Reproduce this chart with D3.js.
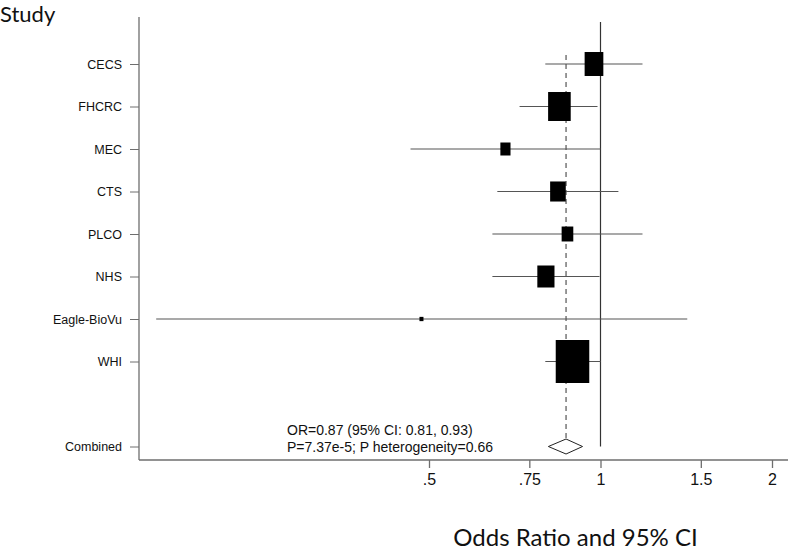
<!DOCTYPE html>
<html>
<head>
<meta charset="utf-8">
<script src="https://cdn.jsdelivr.net/npm/d3@7"></script>
<style>
  html, body { margin: 0; padding: 0; background: #fff; }
  svg { display: block; }
</style>
</head>
<body>
<svg id="chart" width="788" height="552"></svg>
<script>
// ---- data ----
const studies   = ["CECS", "FHCRC", "MEC", "CTS", "PLCO", "NHS", "Eagle-BioVu", "WHI"];
const oddsRatio = [0.974, 0.847, 0.681, 0.842, 0.875, 0.802, 0.485, 0.893];
const ciLow     = [0.800, 0.721, 0.464, 0.659, 0.646, 0.646, 0.166, 0.800];
const ciHigh    = [1.185, 0.988, 1.000, 1.075, 1.185, 0.996, 1.420, 1.000];
const weights   = [12.6, 18.4, 3.7, 8.8, 4.9, 10.6, 0.4, 40.5];
const combined  = { label: "Combined", or: 0.87, low: 0.81, high: 0.93 };
const xTicks      = [0.5, 0.75, 1, 1.5, 2];
const xTickLabels = [".5", ".75", "1", "1.5", "2"];
const summaryLines = ["OR=0.87 (95% CI: 0.81, 0.93)", "P=7.37e-5; P heterogeneity=0.66"];

// ---- layout ----
const svg = d3.select("#chart");
const axisLeftX = 139, axisTopY = 17, axisBottomY = 460, axisRightX = 788;

const x = d3.scaleLog().domain([0.5, 2]).range([429, 772]);
const rows = studies.concat([" ", combined.label]);
const y = d3.scalePoint().domain(rows).range([64, 446.5]);
const boxH = d3.scaleSqrt().domain([0, 40.5]).range([0, 43]);
const aspect = 0.78;

const data = studies.map((s, i) => ({ s, or: oddsRatio[i], lo: ciLow[i], hi: ciHigh[i], w: weights[i] }));

// frame
const axisColor = "#6e6e6e";
svg.append("line").attr("x1", axisLeftX).attr("x2", axisLeftX)
  .attr("y1", axisTopY).attr("y2", axisBottomY)
  .attr("stroke", axisColor).attr("stroke-width", 1.3);
svg.append("line").attr("x1", axisLeftX).attr("x2", axisRightX)
  .attr("y1", axisBottomY).attr("y2", axisBottomY)
  .attr("stroke", axisColor).attr("stroke-width", 1.3);

// y axis
const yAxis = d3.axisLeft(y).tickValues(rows.filter(r => r.trim() !== ""))
  .tickSize(9).tickPadding(8);
const gy = svg.append("g").attr("transform", `translate(${axisLeftX},0)`).call(yAxis);
gy.select(".domain").remove();
gy.selectAll(".tick line").attr("stroke", axisColor);
gy.selectAll(".tick text").attr("font-family", "Liberation Sans, Arial, sans-serif")
  .attr("font-size", 12.5).attr("fill", "#111");

// x axis
const xAxis = d3.axisBottom(x).tickValues(xTicks)
  .tickFormat((d, i) => xTickLabels[i]).tickSize(8).tickPadding(6);
const gx = svg.append("g").attr("transform", `translate(0,${axisBottomY})`).call(xAxis);
gx.select(".domain").remove();
gx.selectAll(".tick line").attr("stroke", axisColor).attr("stroke-width", 1.3);
gx.selectAll(".tick text").attr("font-family", "Liberation Sans, Arial, sans-serif")
  .attr("font-size", 16).attr("fill", "#111");

// null line at OR = 1
svg.append("line").attr("x1", x(1)).attr("x2", x(1))
  .attr("y1", 22).attr("y2", y(combined.label))
  .attr("stroke", "#333").attr("stroke-width", 1.2);

// dashed line at combined OR
const diamondHalfH = 7.5;
svg.append("line").attr("x1", x(combined.or)).attr("x2", x(combined.or))
  .attr("y1", 55).attr("y2", y(combined.label) - diamondHalfH)
  .attr("stroke", "#555").attr("stroke-width", 1.2).attr("stroke-dasharray", "5,4");

// CI lines
svg.selectAll("line.ci").data(data).join("line").attr("class", "ci")
  .attr("x1", d => x(d.lo)).attr("x2", d => x(d.hi))
  .attr("y1", d => y(d.s)).attr("y2", d => y(d.s))
  .attr("stroke", "#555").attr("stroke-width", 1.2);

// boxes
svg.selectAll("rect.box").data(data).join("rect").attr("class", "box")
  .attr("x", d => x(d.or) - Math.max(4, boxH(d.w) * aspect) / 2)
  .attr("y", d => y(d.s) - Math.max(4, boxH(d.w)) / 2)
  .attr("width", d => Math.max(4, boxH(d.w) * aspect))
  .attr("height", d => Math.max(4, boxH(d.w)))
  .attr("fill", "#000");

// diamond
const cy = y(combined.label);
svg.append("path")
  .attr("d", `M${x(combined.low)},${cy} L${x(combined.or)},${cy - diamondHalfH} L${x(combined.high)},${cy} L${x(combined.or)},${cy + diamondHalfH} Z`)
  .attr("fill", "#fff").attr("stroke", "#222").attr("stroke-width", 1);

// summary text
svg.selectAll("text.summary").data(summaryLines).join("text").attr("class", "summary")
  .attr("x", 287).attr("y", (d, i) => 435 + i * 17)
  .attr("font-family", "Liberation Sans, Arial, sans-serif").attr("font-size", 14)
  .attr("fill", "#111").text(d => d);

// titles
svg.append("text").attr("x", 0).attr("y", 22)
  .attr("font-family", "Lato, 'Open Sans', sans-serif").attr("font-size", 22)
  .attr("fill", "#111").text("Study");
svg.append("text").attr("x", 575.5).attr("y", 546).attr("text-anchor", "middle")
  .attr("font-family", "Lato, 'Open Sans', sans-serif").attr("font-size", 24)
  .attr("fill", "#111").text("Odds Ratio and 95% CI");
</script>
</body>
</html>
